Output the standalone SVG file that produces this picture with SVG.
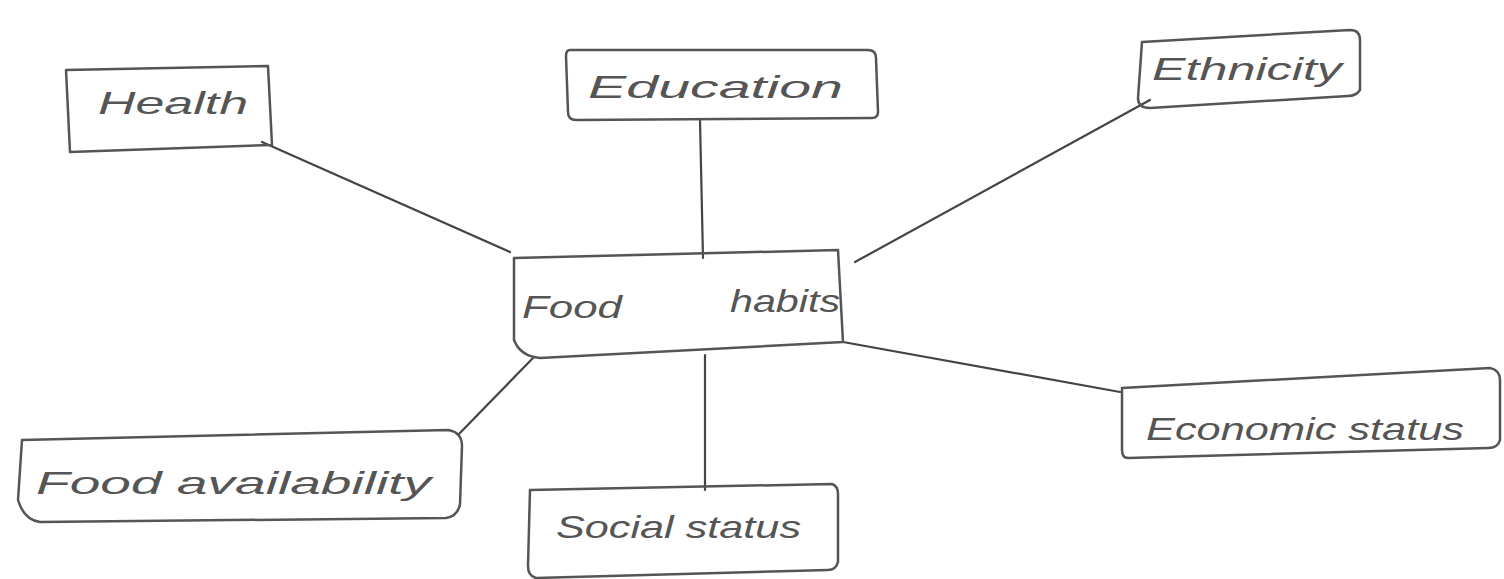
<svg xmlns="http://www.w3.org/2000/svg" width="1504" height="579" viewBox="0 0 1504 579">
<style>
.box{fill:none;stroke:#555;stroke-width:2.5;stroke-linejoin:round;stroke-linecap:round}
.ln{fill:none;stroke:#444;stroke-width:2.2;stroke-linecap:round}
.t{font-family:"Liberation Sans",Arial,sans-serif;font-style:italic;fill:#555;font-size:32px}
</style>
<rect width="1504" height="579" fill="#ffffff"/>
<g id="connectors">
<path class="ln" d="M262,142 L510,252"/>
<path class="ln" d="M700,120 L703,258"/>
<path class="ln" d="M1150,100 L855,262"/>
<path class="ln" d="M843,342 L1120,392"/>
<path class="ln" d="M533,358 L458,435"/>
<path class="ln" d="M705,355 L705,490"/>
</g>
<g id="health">
<path class="box" d="M66,70 L268,66 L272,145 L70,152 Z"/>
<text class="t" x="98" y="114" textLength="150" lengthAdjust="spacingAndGlyphs">Health</text>
</g>
<g id="education">
<path class="box" d="M570,50 Q566,50 566,56 L568,112 Q568,120 576,120 L872,118 Q878,118 878,112 L876,58 Q876,50 868,50 Z"/>
<text class="t" x="588" y="98" textLength="255" lengthAdjust="spacingAndGlyphs">Education</text>
</g>
<g id="ethnicity">
<path class="box" d="M1142,42 L1350,30 Q1360,30 1360,40 L1360,90 Q1356,96 1348,96 L1150,108 Q1138,108 1138,98 Z"/>
<text class="t" x="1152" y="80" textLength="190" lengthAdjust="spacingAndGlyphs">Ethnicity</text>
</g>
<g id="food-habits">
<path class="box" d="M514,258 L838,250 L843,342 L540,358 Q520,356 514,340 Z"/>
<text class="t" x="522" y="318" font-size="36" textLength="100" lengthAdjust="spacingAndGlyphs">Food</text>
<text class="t" x="730" y="312" font-size="36" textLength="110" lengthAdjust="spacingAndGlyphs">habits</text>
</g>
<g id="economic-status">
<path class="box" d="M1122,388 L1490,368 Q1500,370 1500,380 L1500,440 Q1498,448 1488,448 L1128,458 Q1122,458 1122,450 Z"/>
<text class="t" x="1146" y="440" textLength="318" lengthAdjust="spacingAndGlyphs">Economic status</text>
</g>
<g id="food-availability">
<path class="box" d="M22,440 L448,430 Q462,432 462,446 L460,504 Q458,516 446,518 L40,522 Q24,520 18,500 Z"/>
<text class="t" x="36" y="494" textLength="395" lengthAdjust="spacingAndGlyphs">Food availability</text>
</g>
<g id="social-status">
<path class="box" d="M530,490 L832,484 Q838,486 838,494 L838,562 Q836,570 828,570 L536,578 Q528,576 528,566 Z"/>
<text class="t" x="556" y="538" textLength="245" lengthAdjust="spacingAndGlyphs">Social status</text>
</g>
</svg>
